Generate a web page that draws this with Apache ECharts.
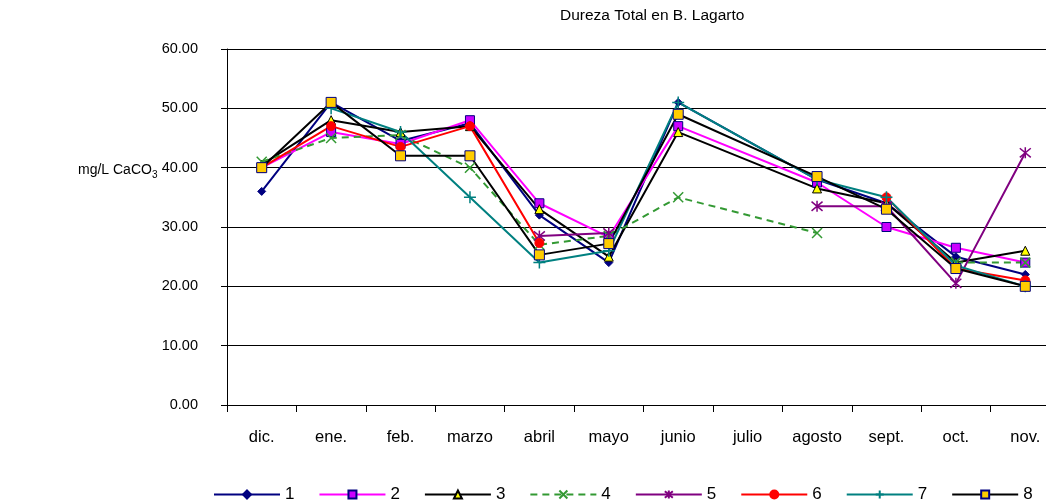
<!DOCTYPE html>
<html>
<head>
<meta charset="utf-8">
<script src="https://cdn.jsdelivr.net/npm/echarts@6/dist/echarts.min.js"></script>
<style>
  html, body {margin: 0; padding: 0; background: #fff;}
  #chart {width: 1046px; height: 500px;}
</style>
</head>
<body>
<div id="chart"></div>
<script>
const months = ['dic.', 'ene.', 'feb.', 'marzo', 'abril', 'mayo', 'junio', 'julio', 'agosto', 'sept.', 'oct.', 'nov.']
// no samples in julio: lines run straight across it
const sampled = months.filter(m => m !== 'julio')
const yTicks = [0, 10, 20, 30, 40, 50, 60]

const s1 = [36, 51, 44.5, 47.5, 32, 24, 51, 38, 34, 25, 22]
const s2 = [40, 46, 44, 48, 34, 28.3, 47, 37.5, 30, 26.5, 24]
const s3 = [40.5, 48, 46, 47, 33, 25, 46, 36.5, 34, 24, 26]
const s4 = [41, 45, 45.5, 40, 27, 28.5, 35, 29, null, 24, 24]
const s5 = [null, null, null, null, 28.5, 29, null, 33.5, 33.5, 20.5, 42.5]
const s6 = [40, 47, 43.5, 47, 27.3, null, null, null, 35, 23, 21]
const s7 = [null, 50, 46, 35, 24, 26, 51, 38, 35, 23.5, 20]
const s8 = [40, 51, 42, 42, 25.3, 27.2, 49, 38.5, 33, 23, 20]

const font = 'Liberation Sans, Arial, sans-serif'

const xMark = 'path://M0,0L10,10M10,0L0,10'
const starMark = 'path://M0,0L10,10M10,0L0,10M5,-1L5,11'
const plusMark = 'path://M5,0L5,10M0,5L10,5'

function mkSeries (name, values, color, symbol, size, fill, border, dashed) {
  return {
    name: name,
    type: 'line',
    data: sampled.map((m, i) => [m, values[i]]),
    connectNulls: false,
    color: color,
    symbol: symbol,
    symbolSize: size,
    lineStyle: {color: color, width: 2, type: dashed ? [7, 5] : 'solid'},
    itemStyle: {color: fill, borderColor: border, borderWidth: symbol.indexOf('path') === 0 ? 1.5 : 1},
    emphasis: {disabled: true},
    animation: false
  }
}

const series = [
  mkSeries('1', s1, '#000080', 'diamond', 8, '#000080', '#000080'),
  mkSeries('2', s2, '#FF00FF', 'rect', 9, '#CC00FF', '#000080'),
  mkSeries('3', s3, '#000000', 'triangle', 9, '#FFFF00', '#000000'),
  mkSeries('4', s4, '#339933', xMark, 10, 'none', '#339933', true),
  mkSeries('5', s5, '#800080', starMark, 11, 'none', '#800080'),
  mkSeries('6', s6, '#FF0000', 'circle', 9, '#FF0000', '#FF0000'),
  mkSeries('7', s7, '#008080', plusMark, 12, 'none', '#008080'),
  mkSeries('8', s8, '#000000', 'rect', 10, '#FFCC00', '#000080')
]

const chart = echarts.init(document.getElementById('chart'), null, {renderer: 'canvas'})
chart.setOption({
  backgroundColor: '#fff',
  animation: false,
  title: {
    text: 'Dureza Total en B. Lagarto',
    left: 555,
    top: 3,
    textStyle: {fontFamily: font, fontSize: 15.5, fontWeight: 'normal', color: '#000'}
  },
  grid: {left: 227, right: -14, top: 49, bottom: 95, outerBoundsMode: 'none'},
  legend: {
    left: 208,
    top: 481,
    itemWidth: 66,
    itemHeight: 10,
    itemGap: 24,
    textStyle: {fontFamily: font, fontSize: 17, color: '#000'},
    data: series.map(s => s.name)
  },
  graphic: [{
    type: 'text',
    left: 78,
    top: 163,
    style: {
      text: '{a|mg/L CaCO}{b|3}',
      rich: {
        a: {fontFamily: font, fontSize: 14, fill: '#000'},
        b: {fontFamily: font, fontSize: 10, fill: '#000', padding: [10, 0, 0, 0]}
      }
    }
  }],
  xAxis: {
    type: 'category',
    data: months,
    boundaryGap: true,
    axisLine: {lineStyle: {color: '#000', width: 1}},
    axisTick: {show: true, length: 7, alignWithLabel: false, lineStyle: {color: '#000'}},
    axisLabel: {fontFamily: font, fontSize: 16.5, color: '#000', margin: 24, interval: 0},
    splitLine: {show: false}
  },
  yAxis: {
    type: 'value',
    min: yTicks[0],
    max: yTicks[yTicks.length - 1],
    interval: 10,
    axisLine: {show: true, lineStyle: {color: '#000', width: 1}},
    axisTick: {show: true, length: 6, lineStyle: {color: '#000'}},
    axisLabel: {fontFamily: font, fontSize: 14.5, color: '#000', margin: 29, formatter: v => v.toFixed(2)},
    splitLine: {show: true, lineStyle: {color: '#000', width: 1}}
  },
  series: series
})
</script>
</body>
</html>
